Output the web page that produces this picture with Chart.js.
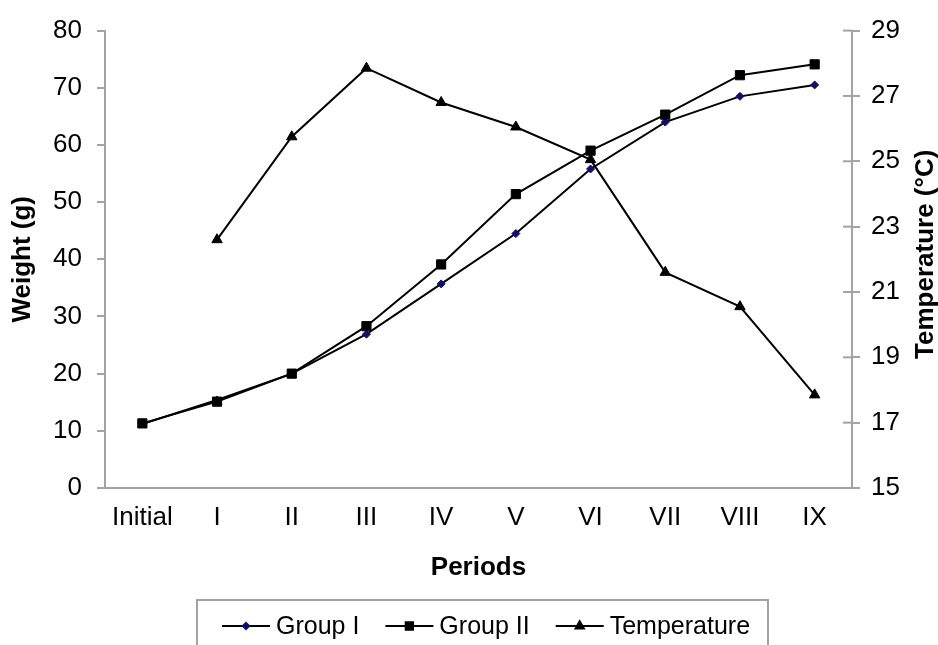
<!DOCTYPE html>
<html>
<head>
<meta charset="utf-8">
<script src="https://cdn.jsdelivr.net/npm/chart.js@4.4.1/dist/chart.umd.min.js"></script>
<style>
  html, body { margin: 0; padding: 0; background: #fff; }
</style>
</head>
<body>
<canvas id="chart" width="938" height="645"></canvas>
<script>
const periods = ["Initial", "I", "II", "III", "IV", "V", "VI", "VII", "VIII", "IX"];
const groupI = [11.2, 15.4, 20.0, 26.9, 35.7, 44.5, 55.8, 64.0, 68.5, 70.5];
const groupII = [11.3, 15.1, 20.0, 28.3, 39.1, 51.4, 59.0, 65.3, 72.2, 74.1];
const temperature = [null, 22.6, 25.75, 27.85, 26.8, 26.05, 25.05, 21.6, 20.55, 17.85];

const axisGray = "#a3a3a3";
const navy = "#10106a";
const fontFamily = "'Liberation Sans', Arial, sans-serif";

Chart.defaults.font.family = fontFamily;
Chart.defaults.color = "#000";

// right-hand title (bottom to top), inner half of right ticks, boxed legend
const extras = {
    id: "extras",
    afterDraw(chart) {
        const ctx = chart.ctx;
        const area = chart.chartArea;
        const y2 = chart.scales.y2;

        ctx.save();
        ctx.strokeStyle = axisGray;
        ctx.lineWidth = 2;
        y2.ticks.forEach((t) => {
            const py = y2.getPixelForValue(t.value);
            ctx.beginPath();
            ctx.moveTo(area.right - 9, py);
            ctx.lineTo(area.right, py);
            ctx.stroke();
        });
        ctx.restore();

        ctx.save();
        ctx.fillStyle = "#000";
        ctx.font = "bold 26px " + fontFamily;
        ctx.translate(933, (area.top + area.bottom) / 2 - 5);
        ctx.rotate(-Math.PI / 2);
        ctx.textAlign = "center";
        ctx.textBaseline = "alphabetic";
        ctx.fillText("Temperature (°C)", 0, 0);
        ctx.restore();

        // legend
        ctx.save();
        ctx.strokeStyle = axisGray;
        ctx.lineWidth = 2;
        ctx.strokeRect(197, 600, 571, 70);
        ctx.font = "25px " + fontFamily;
        ctx.textBaseline = "alphabetic";
        let x = 222;
        const ly = 626;
        chart.data.datasets.forEach((ds) => {
            ctx.strokeStyle = "#000";
            ctx.lineWidth = 2;
            ctx.beginPath();
            ctx.moveTo(x, ly);
            ctx.lineTo(x + 48, ly);
            ctx.stroke();
            ctx.fillStyle = ds.pointBackgroundColor;
            ctx.strokeStyle = ds.pointBorderColor;
            Chart.helpers.drawPoint(ctx, {
                pointStyle: ds.pointStyle,
                radius: ds.pointRadius * 0.8,
                rotation: 0,
                borderWidth: 1
            }, x + 24, ly);
            ctx.fillStyle = "#000";
            ctx.fillText(ds.label, x + 54, 634);
            x += 54 + ctx.measureText(ds.label).width + 26;
        });
        ctx.restore();
    }
};

new Chart(document.getElementById("chart"), {
    type: "line",
    plugins: [extras],
    data: {
        labels: periods,
        datasets: [
            {
                label: "Group I",
                data: groupI,
                yAxisID: "y",
                order: 2,
                borderColor: "#000",
                borderWidth: 2,
                pointStyle: "rectRot",
                pointRadius: 4,
                pointBackgroundColor: navy,
                pointBorderColor: navy,
                pointBorderWidth: 1
            },
            {
                label: "Group II",
                data: groupII,
                yAxisID: "y",
                order: 1,
                borderColor: "#000",
                borderWidth: 2,
                pointStyle: "rect",
                pointRadius: 6.5,
                pointBackgroundColor: "#000",
                pointBorderColor: "#000",
                pointBorderWidth: 1
            },
            {
                label: "Temperature",
                data: temperature,
                yAxisID: "y2",
                order: 0,
                borderColor: "#000",
                borderWidth: 2,
                pointStyle: "triangle",
                pointRadius: 6,
                pointBackgroundColor: "#000",
                pointBorderColor: "#000",
                pointBorderWidth: 1
            }
        ]
    },
    options: {
        responsive: false,
        animation: false,
        layout: { padding: { top: 24, left: 0, right: 0, bottom: 0 } },
        elements: { line: { tension: 0 } },
        plugins: {
            legend: { display: false },
            tooltip: { enabled: false }
        },
        scales: {
            x: {
                offset: true,
                afterFit: (scale) => { scale.height = 157; },
                grid: { display: false, drawTicks: false },
                border: { display: true, color: axisGray, width: 2 },
                ticks: { font: { size: 26 }, padding: 14, maxRotation: 0, autoSkip: false },
                title: {
                    display: true,
                    text: "Periods",
                    font: { size: 26, weight: "bold" },
                    padding: { top: 0, bottom: 62 }
                }
            },
            y: {
                position: "left",
                min: 0,
                max: 80,
                afterFit: (scale) => { scale.width = 105; },
                grid: { drawOnChartArea: false, drawTicks: true, tickLength: 8, color: axisGray, lineWidth: 2 },
                border: { display: true, color: axisGray, width: 2 },
                ticks: { stepSize: 10, font: { size: 26 }, padding: 15 },
                title: {
                    display: true,
                    text: "Weight (g)",
                    font: { size: 26, weight: "bold" },
                    padding: { top: 7, bottom: 0 }
                }
            },
            y2: {
                position: "right",
                min: 15,
                max: 29,
                afterFit: (scale) => { scale.width = 86; },
                grid: { drawOnChartArea: false, drawTicks: true, tickLength: 8, color: axisGray, lineWidth: 2 },
                border: { display: true, color: axisGray, width: 2 },
                ticks: { stepSize: 2, font: { size: 26 }, padding: 11 }
            }
        }
    }
});
</script>
</body>
</html>
